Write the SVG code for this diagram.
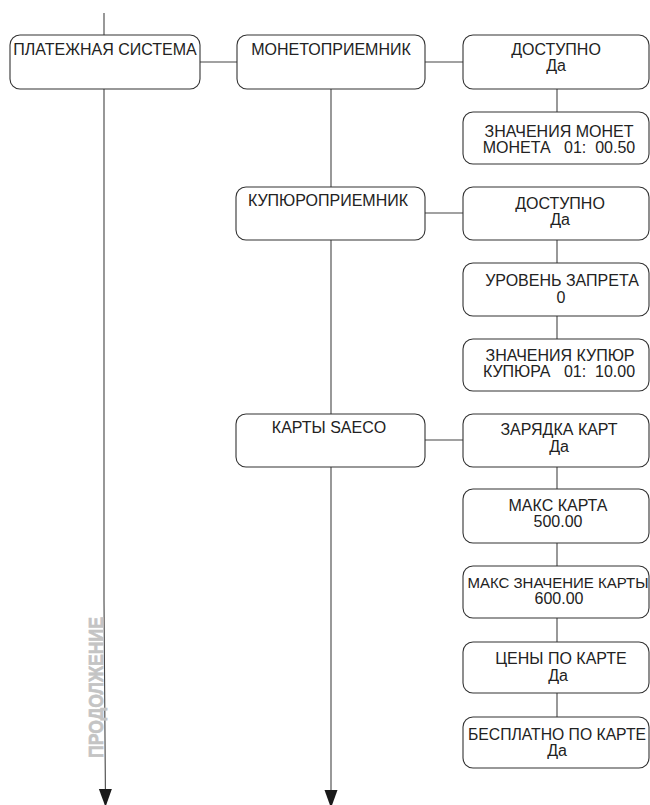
<svg xmlns="http://www.w3.org/2000/svg" width="650" height="805" viewBox="0 0 650 805">
<style>
.box{fill:#fff;stroke:#333;stroke-width:1.1}
.t{font-family:"Liberation Sans",Arial,sans-serif;font-size:16px;fill:#222;text-anchor:middle}
.c{stroke:#444;stroke-width:1.1;fill:none}
.note{font-family:"Liberation Sans",Arial,sans-serif;font-size:21px;font-weight:bold;fill:#c4c4c4;stroke:#c4c4c4;stroke-width:0.7}
</style>
<defs>
<marker id="arr" markerUnits="userSpaceOnUse" markerWidth="18" markerHeight="14" viewBox="0 0 18 14" refX="17" refY="7" orient="auto">
<path d="M0,0.5 L18,7 L0,13.5 Z" fill="#1a1a1a"/>
</marker>
</defs>
<rect width="650" height="805" fill="#fff"/>
<g id="connectors">
<line class="c" x1="104" y1="13" x2="104" y2="35"/>
<line class="c" x1="200" y1="62" x2="237" y2="62"/>
<line class="c" x1="425" y1="62" x2="463" y2="62"/>
<line class="c" x1="425" y1="213" x2="463" y2="213"/>
<line class="c" x1="425" y1="440" x2="463" y2="440"/>
<line class="c" x1="331" y1="89" x2="331" y2="187"/>
<line class="c" x1="331" y1="240" x2="331" y2="414"/>
<line class="c" x1="557" y1="89" x2="557" y2="112"/>
<line class="c" x1="557" y1="240" x2="557" y2="263"/>
<line class="c" x1="557" y1="316" x2="557" y2="339"/>
<line class="c" x1="557" y1="467" x2="557" y2="489"/>
<line class="c" x1="557" y1="543" x2="557" y2="566"/>
<line class="c" x1="557" y1="618" x2="557" y2="642"/>
<line class="c" x1="557" y1="693" x2="557" y2="717"/>
<path class="c" d="M104,89 L104,600 L105.5,806" marker-end="url(#arr)"/>
<path class="c" d="M331,467 L331,807" marker-end="url(#arr)"/>
</g>
<text class="note" transform="translate(103,758) rotate(-90)" textLength="141" lengthAdjust="spacingAndGlyphs">ПРОДОЛЖЕНИЕ</text>
<g id="n-platezh"><rect class="box" x="10" y="35" width="190" height="54" rx="10"/><text class="t" x="105" y="55">ПЛАТЕЖНАЯ СИСТЕМА</text></g>
<g id="n-moneto"><rect class="box" x="237" y="35" width="188" height="54" rx="10"/><text class="t" x="331" y="55">МОНЕТОПРИЕМНИК</text></g>
<g id="n-kupyuro"><rect class="box" x="236" y="187" width="189" height="53" rx="10"/><text class="t" x="328" y="206">КУПЮРОПРИЕМНИК</text></g>
<g id="n-karty"><rect class="box" x="236" y="414" width="189" height="53" rx="10"/><text class="t" x="329" y="433">КАРТЫ SAECO</text></g>
<g id="n-dost1"><rect class="box" x="463" y="35" width="186" height="54" rx="10"/><text class="t" x="556" y="55">ДОСТУПНО</text><text class="t" x="556" y="71">Да</text></g>
<g id="n-znmonet"><rect class="box" x="463" y="112" width="186" height="52" rx="10"/><text class="t" x="559" y="137">ЗНАЧЕНИЯ МОНЕТ</text><text class="t" x="559" y="153" xml:space="preserve">МОНЕТА   01:  00.50</text></g>
<g id="n-dost2"><rect class="box" x="463" y="187" width="186" height="53" rx="10"/><text class="t" x="560" y="209">ДОСТУПНО</text><text class="t" x="560" y="225">Да</text></g>
<g id="n-uroven"><rect class="box" x="463" y="263" width="186" height="53" rx="10"/><text class="t" x="562" y="286">УРОВЕНЬ ЗАПРЕТА</text><text class="t" x="561" y="303">0</text></g>
<g id="n-znkupyur"><rect class="box" x="463" y="339" width="186" height="52" rx="10"/><text class="t" x="560" y="361">ЗНАЧЕНИЯ КУПЮР</text><text class="t" x="559" y="377" xml:space="preserve">КУПЮРА   01:  10.00</text></g>
<g id="n-zaryadka"><rect class="box" x="463" y="414" width="186" height="53" rx="10"/><text class="t" x="559" y="435">ЗАРЯДКА КАРТ</text><text class="t" x="559" y="452">Да</text></g>
<g id="n-makskarta"><rect class="box" x="463" y="489" width="186" height="54" rx="10"/><text class="t" x="558" y="511">МАКС КАРТА</text><text class="t" x="558" y="527">500.00</text></g>
<g id="n-maksznach"><rect class="box" x="463" y="566" width="186" height="52" rx="10"/><text class="t" x="558" y="588" style="font-size:15px">МАКС ЗНАЧЕНИЕ КАРТЫ</text><text class="t" x="559" y="604">600.00</text></g>
<g id="n-tseny"><rect class="box" x="463" y="642" width="186" height="51" rx="10"/><text class="t" x="561" y="664">ЦЕНЫ ПО КАРТЕ</text><text class="t" x="558" y="681">Да</text></g>
<g id="n-besplatno"><rect class="box" x="463" y="717" width="186" height="51" rx="10"/><text class="t" x="557" y="740" textLength="178" lengthAdjust="spacingAndGlyphs">БЕСПЛАТНО ПО КАРТЕ</text><text class="t" x="557" y="756">Да</text></g>
</svg>
